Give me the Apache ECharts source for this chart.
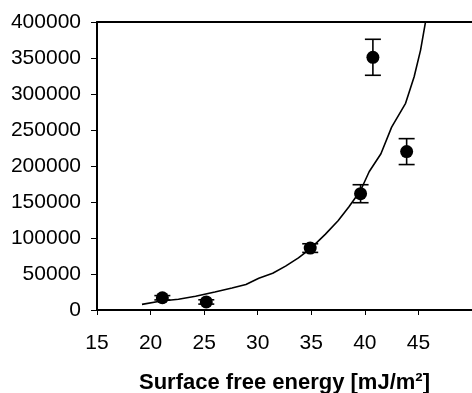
<!DOCTYPE html>
<html>
<head>
<meta charset="utf-8">
<script src="https://cdn.jsdelivr.net/npm/echarts@6/dist/echarts.min.js"></script>
<style>
  html, body { margin: 0; padding: 0; background: #fff; }
  #chart { width: 472px; height: 393px; }
</style>
</head>
<body>
<div id="chart"></div>
<script>
// measured points with error bars
const pointX = [21.1, 25.2, 34.9, 39.6, 40.75, 43.9];
const pointY = [17000, 11200, 86000, 161500, 351000, 220000];
const pointErr = [3000, 3000, 6000, 12500, 25000, 18000];

// fitted curve
const curveX = [19.2, 21.0, 22.6, 24.2, 26.0, 27.6, 28.9, 30.1, 31.4, 32.6, 33.8, 34.9, 36.3, 37.5, 38.5, 39.6, 40.4, 41.5, 42.5, 43.8, 44.6, 45.2, 45.65];
const curveY = [7800, 12500, 15000, 19000, 25000, 30500, 35500, 44000, 51000, 61000, 72500, 85000, 105000, 124000, 143000, 166000, 192000, 217000, 254000, 287000, 324000, 361000, 399000];

const xTicks = [15, 20, 25, 30, 35, 40, 45, 50];

const chart = echarts.init(document.getElementById('chart'), null, { renderer: 'canvas' });

const font = 'Liberation Sans, Arial, sans-serif';

chart.setOption({
  animation: false,
  backgroundColor: '#fff',
  grid: { left: 97, right: 0, top: 22, bottom: 83, outerBoundsMode: 'none', containLabel: false },
  xAxis: [
    {
      type: 'value',
      min: xTicks[0],
      max: xTicks[xTicks.length - 1],
      interval: 5,
      name: 'Surface free energy [mJ/m²]',
      nameLocation: 'middle',
      nameGap: 62,
      nameTextStyle: { color: '#000', fontSize: 22, fontWeight: 'bold', fontFamily: font },
      axisLine: { show: true, onZero: false, lineStyle: { color: '#000', width: 2 } },
      axisTick: { show: true, length: 5, lineStyle: { color: '#000', width: 1 } },
      axisLabel: { color: '#000', fontSize: 21, fontFamily: font, margin: 23, showMaxLabel: false },
      splitLine: { show: false }
    },
    {
      type: 'value',
      position: 'top',
      min: 15, max: 50,
      axisLine: { show: true, onZero: false, lineStyle: { color: '#000', width: 2 } },
      axisTick: { show: false },
      axisLabel: { show: false },
      splitLine: { show: false }
    }
  ],
  yAxis: {
    type: 'value',
    min: 0,
    max: 400000,
    interval: 50000,
    axisLine: { show: true, lineStyle: { color: '#000', width: 2 } },
    axisTick: { show: true, length: 6, lineStyle: { color: '#000', width: 1 } },
    axisLabel: { color: '#000', fontSize: 21, fontFamily: font, margin: 16, formatter: v => String(v) },
    splitLine: { show: false }
  },
  series: [
    {
      type: 'line',
      data: curveX.map((x, i) => [x, curveY[i]]),
      showSymbol: false,
      symbol: 'none',
      smooth: false,
      clip: true,
      lineStyle: { color: '#000', width: 1.6 },
      z: 2
    },
    {
      type: 'custom',
      data: pointX.map((x, i) => [x, pointY[i] - pointErr[i], pointY[i] + pointErr[i]]),
      renderItem: function (params, api) {
        const lo = api.coord([api.value(0), api.value(1)]);
        const hi = api.coord([api.value(0), api.value(2)]);
        const half = 8;
        const style = { stroke: '#000', lineWidth: 1.6 };
        return {
          type: 'group',
          children: [
            { type: 'line', shape: { x1: lo[0], y1: lo[1], x2: hi[0], y2: hi[1] }, style: style },
            { type: 'line', shape: { x1: lo[0] - half, y1: lo[1], x2: lo[0] + half, y2: lo[1] }, style: style },
            { type: 'line', shape: { x1: hi[0] - half, y1: hi[1], x2: hi[0] + half, y2: hi[1] }, style: style }
          ]
        };
      },
      z: 3
    },
    {
      type: 'scatter',
      data: pointX.map((x, i) => [x, pointY[i]]),
      symbol: 'circle',
      symbolSize: 13,
      itemStyle: { color: '#000', opacity: 1 },
      z: 4
    }
  ]
});
</script>
</body>
</html>
